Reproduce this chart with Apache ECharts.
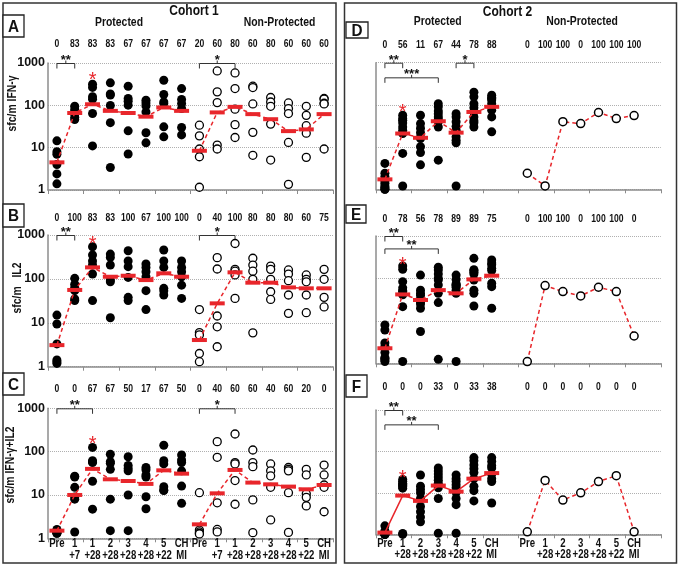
<!DOCTYPE html>
<html><head><meta charset="utf-8">
<script src="https://cdn.jsdelivr.net/npm/echarts@6/dist/echarts.min.js"></script>
<style>html,body{margin:0;padding:0;background:#fff}#c{width:680px;height:567px}</style>
</head><body><div id="c"></div><script>
// ---------- categories ----------
const timepoints1 = ['Pre','1\n+7','1\n+28','2\n+28','3\n+28','4\n+28','5\n+22','CH\nMI'];
const timepoints2 = ['Pre','1\n+28','2\n+28','3\n+28','4\n+28','5\n+22','CH\nMI'];
const yTicks = [1, 10, 100, 1000];

// ---------- Panel A : Cohort 1, IFN-γ ----------
const pctA_P = [0,83,83,83,67,67,67,67];
const pctA_NP = [20,60,80,60,80,60,60,60];
const ptsA_P = [[14.5,8,7,4,2.4,1.4],[95,80,70,62,52,46],[315,265,160,140,64,11],[340,185,175,99,39,3.4],
  [282,145,125,101,25,7.1],[132,114,97,70,22.5,13],[391,180,121,110,31,18],[249,137,110,84,30,20]];
const ptsA_NP = [[34,19,9.3,6.1,1.16],[649,208,116,11.5,9.3],[582,249,81,35,17.4],[283,263,108,23,6.6],
  [153,120,95,36,5.1],[114,84,64,13.3,1.36],[95,58,33,22,5.9],[145,140,112,108,9.3]];
const meanA_P = [4.5,66,106,74,66,54,89,74];
const meanA_NP = [8.45,68,92,62,47,24.6,27,62];

// ---------- Panel B : Cohort 1, IL2 ----------
const pctB_P = [0,100,83,83,100,67,100,100];
const pctB_NP = [0,40,100,80,80,80,60,75];
const ptsB_P = [[15,9.4,3.3,1.42,1.3,1.19],[103,76,64,54,35,32],[541,350,255,207,129,32],[368,309,207,94,86,13],
  [439,255,190,108,38,32],[218,183,146,112,54,20],[455,255,183,61,54,43],[255,183,146,112,72,36]];
const ptsB_NP = [[20,6,5.3,2,1.3],[305,168,14.3,8.1,2.85],[640,165,150,123,36],[295,207,150,98,5.9],
  [196,165,98,51,34],[160,129,91,43,16.4],[123,98,86,43,17],[165,98,38,23]];
const meanB_P = [3.1,56,183,112,118,94,134,112];
const meanB_NP = [4.05,27.7,141,82,82,64,61,61];

// ---------- Panel C : Cohort 1, IFN-γ+IL2 ----------
const pctC_P = [0,0,67,67,50,17,67,50];
const pctC_NP = [0,40,60,60,40,60,20,0];
const ptsC_P = [[1.6,1.5,1.4,1.4,1.3,1.3],[27,26,15,9,8,1.4],[125,62,58,56,20.7,4.7],[87,59,54,39,8,1.5],
  [76,48,41,36,10,1.5],[43,38,29,26,9.1,4.8],[140,62,52,15.5,13,12.6],[84,64,56,36,16,6.4]];
const ptsC_NP = [[11.3,1.55,1.4,1.3,1.26],[170,74,6.6,1.6,1.4],[255,56,52,21.5,6.1],[109,56,45,7.7,1.35],
  [52,36,27.5,15,2.65],[43,39,36,11.3,1.37],[39,29,10.6,8.8,5.6],[49,29,17,15,4.1]];
const meanC_P = [1.5,10,40,23,21,18,37,31];
const meanC_NP = [2.1,10.9,37.8,19.3,17.6,15.6,13.5,17];

// ---------- Panel D : Cohort 2, IFN-γ ----------
const pctD_P = [0,56,11,67,44,78,88];
const pctD_NP = [0,100,100,0,100,100,100];
const ptsD_P = [[4.1,2.4,2.0,1.6,1.4,1.2,1.1,1.0,1.0],[57,47,43,37.5,30,25,21,7.1,1.2],[57,36,28,22,17,16,10.2,7.4,3.8],
  [107,90,72,62,52,45,40,30,4.9],[62,52,40,31,25,17.5,14.6,12.6,1.2],[200,155,107,86,68,52,42,38,30],
  [170,150,141,130,107,75,52,23]];
const meanD_P = [1.72,21,16.6,41,22,68,90];
const valD_NP = [2.4,1.2,40,36,66,47.5,56];

// ---------- Panel E : Cohort 2, IL2 ----------
const pctE_P = [0,78,56,78,89,89,75];
const pctE_NP = [0,100,100,0,100,100,0];
const ptsE_P = [[8,6.1,3,2.5,1.8,1.35,1.3,1.2,1.1],[196,165,84,60,51,50,41,21.6,1.1],[120,53,44.5,40,33,28,25,19.8,5.6],
  [183,158,127,101,92,70,44.5,27,1.24],[120,95,75,70,68,62,53,44.5,1.1],[297,160,153,140,127,92,53,44.5,22.4],
  [272,230,210,173,153,77,64,19.8]];
const meanE_P = [2.26,42,31,53,44.5,95,116];
const valE_NP = [1.1,68,49,38.6,62,49,4.4];

// ---------- Panel F : Cohort 2, IFN-γ+IL2 ----------
const pctF_P = [0,0,0,33,0,33,38];
const pctF_NP = [0,0,0,0,0,0,0];
const ptsF_P = [[1.6,1.2,1.1,1.05,1,1,1,1,1],[21,19,17,16,15,14,13,1.05,1.0],[27,14.5,12,10,7.3,4.7,3.5,2.6,2],
  [40,33.5,28.4,24,20.2,17.1,13.3,7.3,1.06],[27,22,18.7,15.7,13.3,10.3,7.3,5.2,1.06],[71,60,47,38.4,30.9,22,14.5,11.3,6.4],
  [71,57,45,40,28.4,22,18.7,5.7]];
const meanF_P = [1.1,8.6,6.4,15,10.7,22,30];
const valF_NP = [1.15,20,6.7,10,18.7,26,1.15];

// ---------- significance brackets [fromSlot, toSlot, level, label] and red stars [slot, level] ----------
const brA = [[0,1,1000,'**'],[8,10,1000,'*']];
const brB = [[0,1,1000,'**'],[8,10,1000,'*']];
const brC = [[0,2,1000,'**'],[8,10,1000,'*']];
const brD = [[0,1,1000,'**'],[0,3,450,'***'],[4,5,1000,'*']];
const brE = [[0,1,1000,'**'],[0,3,510,'**']];
const brF = [[0,1,1000,'**'],[0,3,450,'**']];
const starA = [2,520], starB = [2,770], starC = [2,190], starD = [1,88], starE = [1,272], starF = [1,29.5];

// ---------- styling / layout ----------
const SANS = "'Liberation Sans',Arial,sans-serif";
const NX = 0.8; // horizontal squeeze to mimic a narrow face
const RED = '#e8262b';
const AXIS = '#8c8c8c';

const panels = [
  {c:1, grid:{left:48,top:63,width:285,height:127}, py:44, pP:pctA_P, pN:pctA_NP, ptsP:ptsA_P, ptsN:ptsA_NP, mP:meanA_P, mN:meanA_NP, br:brA, star:starA, yl:true, xl:false},
  {c:1, grid:{left:48,top:235,width:285,height:131.7}, py:217.7, pP:pctB_P, pN:pctB_NP, ptsP:ptsB_P, ptsN:ptsB_NP, mP:meanB_P, mN:meanB_NP, br:brB, star:starB, yl:true, xl:false},
  {c:1, grid:{left:48,top:408.3,width:285,height:130}, py:389, pP:pctC_P, pN:pctC_NP, ptsP:ptsC_P, ptsN:ptsC_NP, mP:meanC_P, mN:meanC_NP, br:brC, star:starC, yl:true, xl:true, xy:[543.5,555.5]},
  {c:2, grid:{left:376,top:62.7,width:284.8,height:126.6}, py:45, pP:pctD_P, pN:pctD_NP, ptsP:ptsD_P, single:valD_NP, mP:meanD_P, br:brD, star:starD, yl:false, xl:false},
  {c:2, grid:{left:376,top:236,width:284.8,height:127.3}, py:219.3, pP:pctE_P, pN:pctE_NP, ptsP:ptsE_P, single:valE_NP, mP:meanE_P, br:brE, star:starE, yl:false, xl:false},
  {c:2, grid:{left:376,top:410,width:284.8,height:124.3}, py:387.3, pP:pctF_P, pN:pctF_NP, ptsP:ptsF_P, single:valF_NP, mP:meanF_P, br:brF, star:starF, yl:false, xl:true, xy:[543.5,554.5], solid:true}
];

const grids = [], xAxes = [], yAxes = [], series = [];
panels.forEach((p, k) => {
  grids.push(Object.assign({containLabel:false}, p.grid));
  p.slots = p.c === 1 ? timepoints1.concat(timepoints1) : timepoints2.concat([''], timepoints2, ['']);
  p.pcts = p.c === 1 ? p.pP.concat(p.pN) : p.pP.concat([''], p.pN, ['']);
  xAxes.push({gridIndex:k, type:'category', data:p.slots.map((s, i) => 'k' + i), position:'bottom', boundaryGap:true,
    axisLine:{show:true, lineStyle:{color:AXIS, width:1.5}},
    axisTick:{show:true, interval:1, length:4, lineStyle:{color:AXIS, width:1}},
    axisLabel:{show:false}, splitLine:{show:false}});
  yAxes.push({gridIndex:k, type:'log', logBase:10, min:yTicks[0], max:yTicks[yTicks.length-1],
    axisLine:{show:true, lineStyle:{color:AXIS, width:1.5}}, axisTick:{show:false},
    axisLabel:{show:p.yl, margin:3, formatter:v => String(Math.round(v)),
      fontFamily:SANS, fontWeight:'bold', fontSize:12.5, color:'#111'},
    splitLine:{show:true, lineStyle:{color:'#b0b0b0', type:'dotted', width:1}}});

  series.push({type:'scatter', xAxisIndex:k, yAxisIndex:k, silent:true, clip:false, z:2,
    symbol:'circle', symbolSize:9, itemStyle:{color:'#000', opacity:1},
    data:p.ptsP.flatMap((col, i) => col.map(v => [i, v]))});
  const meanLine = (vals, off, solid) => ({type:'line', xAxisIndex:k, yAxisIndex:k, silent:true, clip:false, z:4,
    symbol:'rect', symbolSize:[15,4], itemStyle:{color:RED, opacity:1},
    lineStyle:{color:RED, width:1.5, type:solid ? 'solid' : [4,3]},
    data:vals.map((v, i) => [off + i, v])});
  if (p.c === 1) {
    series.push({type:'scatter', xAxisIndex:k, yAxisIndex:k, silent:true, clip:false, z:2,
      symbol:'circle', symbolSize:8, itemStyle:{color:'#fff', borderColor:'#000', borderWidth:1.3, opacity:1},
      data:p.ptsN.flatMap((col, i) => col.map(v => [8 + i, v]))});
    series.push(meanLine(p.mP, 0, false));
    series.push(meanLine(p.mN, 8, false));
  } else {
    series.push(meanLine(p.mP, 0, !!p.solid));
    series.push({type:'line', xAxisIndex:k, yAxisIndex:k, silent:true, clip:false, z:4,
      symbol:'circle', symbolSize:8, itemStyle:{color:'#fff', borderColor:'#000', borderWidth:1.5, opacity:1},
      lineStyle:{color:RED, width:1.5, type:[4,3]},
      data:p.single.map((v, i) => [8 + i, v])});
  }
});

const chart = echarts.init(document.getElementById('c'), null, {renderer:'canvas'});
chart.setOption({animation:false, backgroundColor:'#fff', grid:grids, xAxis:xAxes, yAxis:yAxes, series:series});

// ---------- annotations ----------
const g = [];
const font = (w, s) => w + ' ' + s + 'px ' + SANS;
const txt = (t, x, y, f, opt) => {
  opt = opt || {};
  return {type:'text', silent:true, x:x, y:y, rotation:opt.rot || 0, scaleX:opt.sx || 1, scaleY:1, z:opt.z || 10,
    style:{text:t, x:0, y:0, font:f, fill:opt.fill || '#111', align:'center', verticalAlign:'middle',
      textAlign:'center', textVerticalAlign:'middle', lineHeight:opt.lh}};
};
// panel frames
g.push({type:'rect', silent:true, shape:{x:3, y:3, width:333, height:560}, style:{fill:'none', stroke:'#333', lineWidth:1.5}});
g.push({type:'rect', silent:true, shape:{x:344.5, y:3, width:332, height:560}, style:{fill:'none', stroke:'#333', lineWidth:1.5}});
// titles
g.push(txt('Cohort 1', 194, 11, font('bold', 15), {sx:NX}));
g.push(txt('Protected', 119, 22, font('bold', 13), {sx:NX}));
g.push(txt('Non-Protected', 279.5, 22, font('bold', 13), {sx:NX}));
g.push(txt('Cohort 2', 507.5, 12, font('bold', 15), {sx:NX}));
g.push(txt('Protected', 437.7, 21, font('bold', 13), {sx:NX}));
g.push(txt('Non-Protected', 582, 21, font('bold', 13), {sx:NX}));
// letter boxes
[['A',3,15,21,22],['B',3,204,21,23],['C',3,373,21,22],['D',346,22,22,16],['E',346,205,20,18],['F',346,375,21,22]].forEach(b => {
  g.push({type:'rect', silent:true, shape:{x:b[1], y:b[2], width:b[3], height:b[4]}, style:{fill:'#fff', stroke:'#222', lineWidth:1.3}});
  g.push(txt(b[0], b[1] + b[3] / 2, b[2] + b[4] / 2 + 1, font('bold', 17), {sx:0.9}));
});
// y axis names
g.push(txt('sfc/m IFN-\u03b3', 12.5, 103.5, font('bold', 13), {rot:Math.PI / 2, sx:NX}));
g.push(txt('sfc/m   IL2', 17, 288, font('bold', 13), {rot:Math.PI / 2, sx:NX}));
g.push(txt('sfc/m IFN-\u03b3+IL2', 10.5, 465, font('bold', 13), {rot:Math.PI / 2, sx:NX}));
panels.forEach((p, k) => {
  // percentages above each time point, and time-point labels below the axis
  p.slots.forEach((s, i) => {
    const px = chart.convertToPixel({gridIndex:k}, [i, 1])[0];
    if (p.pcts[i] !== '') g.push(txt(String(p.pcts[i]), px, p.py, font('bold', 11), {sx:0.78}));
    if (p.xl && s) {
      const lines = s.split('\n');
      lines.forEach((ln, j) => g.push(txt(ln, px, p.xy[j], font('bold', 12), {sx:NX})));
    }
  });
  // significance brackets
  p.br.forEach(b => {
    const a = chart.convertToPixel({gridIndex:k}, [b[0], b[2]]);
    const c = chart.convertToPixel({gridIndex:k}, [b[1], b[2]]);
    const y = a[1] + 0.5, xm = (a[0] + c[0]) / 2;
    g.push({type:'polyline', silent:true, shape:{points:[[a[0], y + 5], [a[0], y], [c[0], y], [c[0], y + 5]]}, style:{stroke:'#333', lineWidth:1, fill:null}});
    g.push({type:'line', silent:true, shape:{x1:xm, y1:y, x2:xm, y2:y - 3}, style:{stroke:'#333', lineWidth:1}});
    g.push(txt(b[3], xm, y - 3, font('bold', 13)));
  });
  // red star over the first post-vaccination peak
  const s = chart.convertToPixel({gridIndex:k}, p.star);
  g.push(txt('*', s[0], s[1] + 5, '20px ' + SANS, {fill:RED}));
});
chart.setOption({graphic:g});
</script></body></html>
